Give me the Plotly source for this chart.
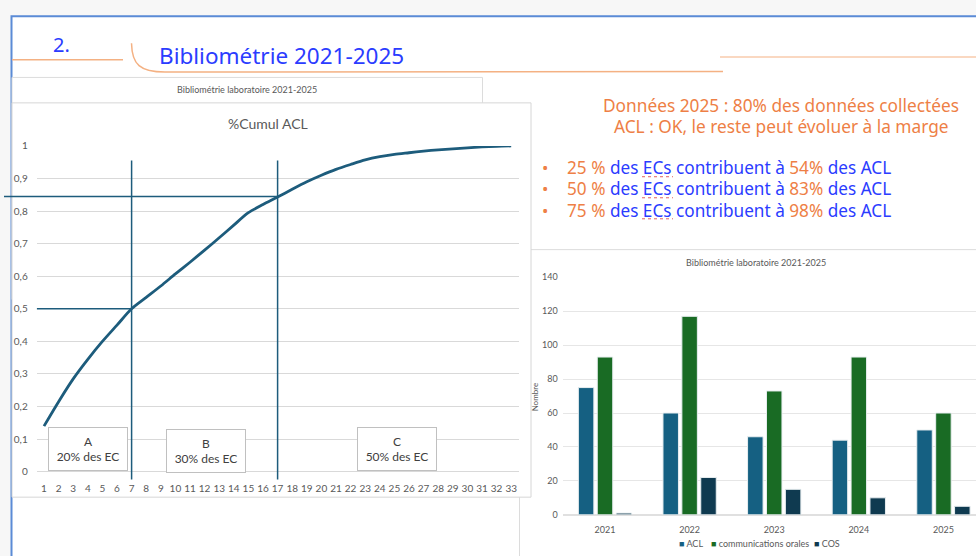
import plotly.graph_objects as go

# ---------------- data ----------------
ec_rank = list(range(1, 34))
cum_acl = [0.14, 0.215, 0.285, 0.345, 0.40, 0.45, 0.50, 0.535, 0.57, 0.607, 0.643,
           0.68, 0.718, 0.757, 0.795, 0.82, 0.843, 0.867, 0.89, 0.91, 0.928, 0.943,
           0.957, 0.967, 0.974, 0.979, 0.984, 0.988, 0.991, 0.994, 0.997, 0.999, 1.0]
y_ticks = [0, 0.1, 0.2, 0.3, 0.4, 0.5, 0.6, 0.7, 0.8, 0.9, 1]
y_tick_labels = ["0", "0,1", "0,2", "0,3", "0,4", "0,5", "0,6", "0,7", "0,8", "0,9", "1"]
split_ranks = [7, 17]          # A|B and B|C limits
half_level = 0.5
high_level = 0.845

years = ["2021", "2022", "2023", "2024", "2025"]
acl = [75, 60, 46, 44, 50]
comm_orales = [93, 117, 73, 93, 60]
cos = [1, 22, 15, 10, 5]

W, H = 976, 556
def px(x): return x / W
def py(y): return 1 - y / H

# axis geometry
X1_DOM = [px(36.7), px(518.5)]
X1_RANGE = [0.5, 33.5]
Y1_DOM = [py(476), py(143)]
def x1_to_paper(v):
    return X1_DOM[0] + (v - X1_RANGE[0]) / (X1_RANGE[1] - X1_RANGE[0]) * (X1_DOM[1] - X1_DOM[0])

LINE_COL = "#1d5c7c"
GRAY_TXT = "#595959"
BLUE = "#2b3cff"
ORANGE = "#ee7f46"
SLIDE_FONT = "Noto Sans"
CHART_FONT = "Lato"

fig = go.Figure()

fig.add_trace(go.Scatter(
    x=ec_rank, y=cum_acl, mode="lines", xaxis="x", yaxis="y",
    line=dict(color=LINE_COL, width=2.8, shape="spline", smoothing=0.8),
    hoverinfo="skip", name="%Cumul ACL"))

bar_colors = ["#156082", "#196b24", "#0f3a50"]
for name, vals, col in zip(["ACL", "communications orales", "COS"],
                           [acl, comm_orales, cos], bar_colors):
    fig.add_trace(go.Bar(x=years, y=vals, name=name, xaxis="x2", yaxis="y2",
                         marker=dict(color=col, line=dict(color="#e8eef0", width=1)),
                         hoverinfo="skip"))

shapes = []
# slide white area with blue frame
shapes.append(dict(type="rect", xref="paper", yref="paper", layer="below",
                   x0=px(11.5), x1=1.05, y0=-0.05, y1=py(10.5),
                   fillcolor="white", line=dict(color="#5b8bd6", width=2)))
# background chart (partially hidden)
shapes.append(dict(type="rect", xref="paper", yref="paper", layer="below",
                   x0=px(12), x1=px(482.5), y0=py(300), y1=py(73),
                   fillcolor="white", line=dict(color="#dcdcdc", width=1)))
# right chart box
shapes.append(dict(type="rect", xref="paper", yref="paper", layer="below",
                   x0=px(519.5), x1=1.05, y0=-0.05, y1=py(249),
                   fillcolor="white", line=dict(color="#dcdcdc", width=1)))
# left chart box
shapes.append(dict(type="rect", xref="paper", yref="paper", layer="below",
                   x0=px(12), x1=px(531), y0=py(502), y1=py(99),
                   fillcolor="white", line=dict(color="#d6d6d6", width=1)))
# orange decorative lines
shapes.append(dict(type="line", xref="paper", yref="paper", x0=px(12), x1=px(123),
                   y0=py(55), y1=py(55), line=dict(color="#f4b183", width=1.5)))
path = (f"M {px(131.5)},{py(38)} C {px(132)},{py(60)} {px(140)},{py(67.5)} {px(165)},{py(67.5)} "
        f"L {px(723)},{py(67)}")
shapes.append(dict(type="path", xref="paper", yref="paper", path=path,
                   line=dict(color="#f4b183", width=1.5)))
shapes.append(dict(type="line", xref="paper", yref="paper", x0=px(720), x1=1.0,
                   y0=py(52), y1=py(52), line=dict(color="#f8cbad", width=1.5)))
# spell-check underline under "ECs"
for y in [174.5, 196, 217.5]:
    shapes.append(dict(type="line", xref="paper", yref="paper", x0=px(642), x1=px(673),
                       y0=py(y), y1=py(y), line=dict(color="#e06060", width=1, dash="dot")))
# reference lines on the cumulative chart
for r in split_ranks:
    shapes.append(dict(type="line", xref="x", yref="paper", x0=r, x1=r,
                       y0=py(484), y1=py(158), line=dict(color=LINE_COL, width=1.5)))
shapes.append(dict(type="line", xref="x", yref="y", x0=X1_RANGE[0], x1=split_ranks[0],
                   y0=half_level, y1=half_level, line=dict(color=LINE_COL, width=1.5)))
shapes.append(dict(type="line", xref="paper", yref="y", x0=px(4), x1=x1_to_paper(split_ranks[1]),
                   y0=high_level, y1=high_level, line=dict(color=LINE_COL, width=1.5)))

ann = []
def text(x, y, t, size, color, family=SLIDE_FONT, xanchor="center", **kw):
    d = dict(x=px(x), y=py(y), xref="paper", yref="paper", text=t, showarrow=False,
             xanchor=xanchor, yanchor="middle", font=dict(size=size, color=color, family=family))
    d.update(kw)
    ann.append(d)

text(61, 39, "2.", 20, BLUE)
text(157, 51, "Bibliométrie 2021-2025", 22.5, BLUE, xanchor="left")
text(247, 85, "Bibliométrie laboratoire 2021-2025", 9, GRAY_TXT, family=CHART_FONT)
text(268, 120, "%Cumul ACL", 14, GRAY_TXT, family=CHART_FONT)
text(781, 101.5, "Données 2025 : 80% des données collectées", 17.3, ORANGE)
text(781, 123, "ACL : OK, le reste peut évoluer à la marge", 17.3, ORANGE)
bullets = [("25 %", "54%"), ("50 %", "83%"), ("75 %", "98%")]
for (a, b), y in zip(bullets, [165.5, 187, 208.5]):
    text(545, y, "•", 17, ORANGE)
    text(565, y, f"<span style='color:{ORANGE}'>{a}</span> des ECs contribuent à "
                 f"<span style='color:{ORANGE}'>{b}</span> des ACL", 17.2, BLUE, xanchor="left")
# class boxes
for cx, cy, lab in [(87.5, 453, "A<br>20% des EC"), (206.4, 455.3, "B<br>30% des EC"),
                    (396.7, 453, "C<br>50% des EC")]:
    text(cx, cy, lab, 12, "#404040", family=CHART_FONT, width=72, height=36,
         bgcolor="white", bordercolor="#c0c0c0", borderwidth=1, borderpad=3)
# right chart texts
text(756, 262, "Bibliométrie laboratoire 2021-2025", 9, GRAY_TXT, family=CHART_FONT)
text(535, 400, "Nombre", 8, GRAY_TXT, family=CHART_FONT, textangle=-90)
for x0, name, col in [(677, "ACL", bar_colors[0]), (709, "communications orales", bar_colors[1]),
                      (812, "COS", bar_colors[2])]:
    text(x0, 549, f"<span style='color:{col}'>■</span> {name}", 9, GRAY_TXT,
         family=CHART_FONT, xanchor="left")

fig.update_layout(
    width=W, height=H, autosize=False, margin=dict(l=0, r=0, t=0, b=0),
    paper_bgcolor="#f7f7f7", plot_bgcolor="rgba(0,0,0,0)", showlegend=False,
    barmode="group", bargap=0.33, bargroupgap=0.18,
    shapes=shapes, annotations=ann,
    xaxis=dict(domain=X1_DOM, range=X1_RANGE, anchor="y", tickvals=ec_rank,
               showgrid=False, zeroline=False, showline=False, ticks="",
               ticklabelstandoff=9,
               tickfont=dict(size=10, color=GRAY_TXT, family=CHART_FONT)),
    yaxis=dict(domain=Y1_DOM, range=[0, 1], anchor="x", tickvals=y_ticks,
               ticktext=y_tick_labels, showgrid=True, gridcolor="#d9d9d9", gridwidth=1,
               zeroline=True, zerolinecolor="#d9d9d9", zerolinewidth=1, showline=False, ticks="",
               ticklabelstandoff=8,
               tickfont=dict(size=10, color=GRAY_TXT, family=CHART_FONT)),
    xaxis2=dict(domain=[px(562.7), 1.0], range=[-0.5, 4.385], anchor="y2", type="category",
                showgrid=False, zeroline=False, showline=False, ticks="",
                ticklabelstandoff=8,
                tickfont=dict(size=9, color=GRAY_TXT, family=CHART_FONT)),
    yaxis2=dict(domain=[py(520), py(277.3)], range=[0, 140], dtick=20, anchor="x2",
                showgrid=True, gridcolor="#e6e6e6", zeroline=True, zerolinecolor="#e0e0e0",
                showline=False, ticks="", ticklabelstandoff=4,
                tickfont=dict(size=9, color=GRAY_TXT, family=CHART_FONT)),
)

fig.write_html("out.html", config={"displayModeBar": False},
               post_script="document.body.style.margin='0';document.body.style.overflow='hidden';")
